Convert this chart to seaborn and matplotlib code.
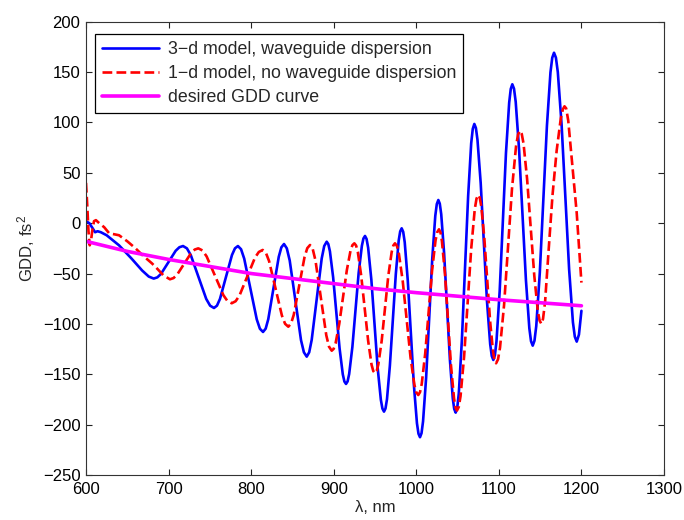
import matplotlib
matplotlib.use("Agg")
import matplotlib.pyplot as plt
import seaborn as sns

# ---- data: (wavelength nm, GDD fs^2) ----
blue_points = [
    (600, 2), (604, 0), (608, -5), (611, -9), (614, -8), (618, -9), (625, -12),
    (640, -22), (655, -35), (668, -47), (676, -53), (682, -55), (686.4, -53.8),
    (690.9, -50.3), (699.75, -38.85), (708.6, -27.4), (713.1, -23.9), (717.5, -22.7),
    (722.2, -25.0), (726.9, -31.7), (736.25, -53.45), (745.6, -75.2), (750.3, -81.9),
    (755, -84.2), (758.6, -81.9), (762.25, -75.2), (769.5, -53.45), (776.75, -31.7),
    (780.4, -25.0), (784, -22.7), (787.8, -25.9), (791.6, -35.2), (799.2, -65.35),
    (806.8, -95.5), (810.6, -104.8), (814.4, -108), (817.6, -104.7), (820.75, -95.3),
    (827.1, -64.35), (833.45, -33.4), (836.6, -24.0), (839.8, -20.7), (843.2, -25.0),
    (846.7, -37), (853.55, -76.6), (860.4, -116.2), (863.9, -128.2), (867.3, -132.5),
    (870.3, -128.2), (873.35, -115.8), (879.4, -75.45), (885.45, -35.1), (888.5, -22.7),
    (891.5, -18.4), (893.45, -20.8), (895.4, -27.9), (899.3, -53.7), (903.2, -89),
    (907.1, -124.3), (911.0, -150.1), (912.95, -157.2), (914.9, -159.6), (916.8, -157.1),
    (918.7, -149.8), (922.6, -122.9), (926.4, -86.15), (930.2, -49.4), (934.1, -22.5),
    (936.0, -15.2), (937.9, -12.7), (939.8, -15.7), (941.7, -24.4), (945.6, -56.3),
    (949.4, -99.9), (953.2, -143.5), (957.1, -175.4), (959.0, -184.1), (960.9, -187.1),
    (962.7, -184), (964.5, -174.9), (968.0, -141.6), (971.6, -96.1), (975.2, -50.6),
    (978.7, -17.3), (980.5, -8.2), (982.3, -5.1), (984.15, -8.6), (986.0, -19),
    (989.7, -57), (993.4, -108.8), (997.1, -160.7), (1000.8, -198.6), (1002.65, -209),
    (1004.5, -212.5), (1006.35, -208.5), (1008.2, -196.7), (1011.9, -153.6),
    (1015.6, -94.75), (1019.3, -35.9), (1023.0, 7.2), (1024.85, 19), (1026.7, 23),
    (1028.45, 19.4), (1030.2, 8.9), (1033.7, -29.8), (1037.2, -82.55), (1040.7, -135.3),
    (1044.2, -174), (1045.95, -184.5), (1047.7, -188.1), (1049.6, -183.2),
    (1051.5, -168.9), (1055.2, -116.45), (1059.0, -44.8), (1062.8, 26.9), (1066.5, 79.3),
    (1068.4, 93.6), (1070.3, 98.5), (1072.2, 94.5), (1074.1, 82.8), (1078.0, 39.9),
    (1081.8, -18.65), (1085.6, -77.2), (1089.5, -120.1), (1091.4, -131.8),
    (1093.3, -135.8), (1095.2, -131.1), (1097.1, -117.5), (1101.0, -67.4), (1104.8, 1.05),
    (1108.6, 69.5), (1112.5, 119.6), (1114.4, 133.2), (1116.3, 137.9), (1118.35, 133.5),
    (1120.4, 120.5), (1124.5, 73), (1128.65, 8.15), (1132.8, -56.7), (1136.9, -104.2),
    (1138.95, -117.2), (1141.0, -121.6), (1143.15, -116.6), (1145.3, -102.1),
    (1149.6, -48.9), (1153.9, 23.8), (1158.2, 96.5), (1162.5, 149.7), (1164.65, 164.2),
    (1166.8, 169.2), (1169.1, 164.3), (1171.4, 150), (1176.0, 97.5), (1180.55, 25.8),
    (1185.1, -45.9), (1189.7, -98.4), (1192.0, -112.7), (1194.3, -117.6), (1197, -110.6),
    (1200, -87),
]

red_points = [
    (600, 40), (601.5, 18), (603, -8), (604.5, -22), (606, -18), (607.5, -8), (609.7, 2),
    (612, 3), (616, 0), (622, -4), (628, -10), (634, -11), (640, -12), (650, -18),
    (660, -25), (668, -31.5), (680, -40), (686, -45), (694, -52), (701.7, -55.7),
    (706.0, -54.5), (710.3, -51.2), (718.85, -40.35), (727.4, -29.5), (731.7, -26.2),
    (736, -25), (741.1, -27.1), (746.1, -33), (756.25, -52.25), (766.4, -71.5),
    (771.4, -77.4), (776.5, -79.5), (781.2, -77.5), (785.9, -71.8), (795.25, -53.05),
    (804.6, -34.3), (809.3, -28.6), (814, -26.6), (817.9, -29.5), (821.75, -37.7),
    (829.5, -64.7), (837.25, -91.7), (841.1, -99.9), (845, -102.8), (848.3, -99.7),
    (851.6, -91), (858.15, -62.25), (864.7, -33.5), (868.0, -24.8), (871.3, -21.7),
    (874.6, -25.7), (877.9, -37), (884.45, -74.15), (891, -111.3), (894.3, -122.6),
    (897.6, -126.6), (899.9, -124.8), (902.2, -119.5), (906.7, -99.95), (911.3, -73.3),
    (915.9, -46.65), (920.4, -27.1), (922.7, -21.8), (925, -20), (927.1, -22.2),
    (929.2, -28.6), (933.3, -52.25), (937.5, -84.5), (941.7, -116.75), (945.8, -140.4),
    (947.9, -146.8), (950, -149), (952.0, -146.8), (954.0, -140.4), (958.1, -116.75),
    (962.1, -84.5), (966.1, -52.25), (970.2, -28.6), (972.2, -22.2), (974.2, -20),
    (976.55, -22.6), (978.9, -30.1), (983.6, -57.65), (988.3, -95.3), (993.0, -132.95),
    (997.7, -160.5), (1000.05, -168), (1002.4, -170.6), (1004.5, -167.8), (1006.6, -159.6),
    (1010.8, -129.5), (1015.0, -88.35), (1019.1, -47.2), (1023.3, -17.1), (1025.4, -8.9),
    (1027.5, -6.1), (1029.3, -9.2), (1031.1, -18.15), (1034.8, -51.1), (1038.4, -96.05),
    (1042.0, -141), (1045.7, -173.9), (1047.5, -183), (1049.3, -186), (1051.45, -182.4),
    (1053.6, -171.7), (1057.9, -132.5), (1062.2, -79), (1066.5, -25.5), (1070.8, 13.7),
    (1072.95, 24.4), (1075.1, 28), (1076.9, 25.2), (1078.7, 16.8), (1082.3, -13.8),
    (1085.85, -55.55), (1089.4, -97.3), (1093.0, -127.9), (1094.8, -136.3),
    (1096.6, -139.1), (1099.0, -135.2), (1101.4, -123.6), (1106.3, -81.4),
    (1111.1, -23.65), (1115.9, 34.1), (1120.8, 76.3), (1123.2, 87.9), (1125.6, 91.8),
    (1127.75, 88.5), (1129.9, 78.95), (1134.2, 43.85), (1138.55, -4.1), (1142.9, -52.05),
    (1147.2, -87.15), (1149.35, -96.7), (1151.5, -100), (1153.5, -95), (1156, -78),
    (1160, -30), (1165, 28), (1170, 72), (1175, 104), (1177.5, 113), (1179.5, 116),
    (1181.5, 114), (1184, 102), (1188, 66), (1191, 40), (1194.3, 10), (1197, -22),
    (1200, -59),
]

mag_x = [600, 650, 700, 750, 800, 850, 900, 950, 1000, 1050, 1100, 1150, 1200]
mag_y = [-18, -28, -36, -43, -50, -55, -60, -65, -69, -72.5, -76, -79, -82]

blue_x = [p[0] for p in blue_points]
blue_y = [p[1] for p in blue_points]
red_x = [p[0] for p in red_points]
red_y = [p[1] for p in red_points]

labels = ["3\u2212d model, waveguide dispersion",
          "1\u2212d model, no waveguide dispersion",
          "desired GDD curve"]
x_ticks = [600, 700, 800, 900, 1000, 1100, 1200, 1300]
y_ticks = [-250, -200, -150, -100, -50, 0, 50, 100, 150, 200]

# ---- style ----
sns.set_theme(style="white")
plt.rcParams["font.family"] = ["Liberation Sans", "DejaVu Sans"]
plt.rcParams["mathtext.default"] = "regular"
plt.rcParams["axes.unicode_minus"] = True

fig = plt.figure(figsize=(6.84, 5.2), dpi=100)
ax = fig.add_axes([86 / 684, 1 - 475 / 520, 578 / 684, 453.3 / 520])

sns.lineplot(x=blue_x, y=blue_y, ax=ax, color="#0000ff", linewidth=1.9,
             sort=False, estimator=None, label=labels[0])
sns.lineplot(x=red_x, y=red_y, ax=ax, color="#ff0000", linewidth=1.9,
             linestyle="--", sort=False, estimator=None, label=labels[1])
sns.lineplot(x=mag_x, y=mag_y, ax=ax, color="#ff00ff", linewidth=2.6,
             sort=False, estimator=None, label=labels[2])

ax.set_xlim(600, 1300)
ax.set_ylim(-250, 200)
ax.set_xticks(x_ticks)
ax.set_yticks(y_ticks)
ax.tick_params(direction="in", length=4.5, width=0.8, colors="#222222",
               labelcolor="black", labelsize=12, top=True, right=True,
               bottom=True, left=True)
ax.tick_params(axis="x", pad=5)
ax.tick_params(axis="y", pad=4)
for s in ax.spines.values():
    s.set_color("#333333")
    s.set_linewidth(0.8)

ax.set_xlabel("\u03bb, nm", fontsize=12, labelpad=2)
ax.set_ylabel("GDD, fs$^2$", fontsize=12, labelpad=4)

leg = ax.legend(loc="upper left", bbox_to_anchor=(9 / 578, 1 - 12.3 / 453.3),
                borderaxespad=0, fontsize=12.8, frameon=True, fancybox=False,
                framealpha=1, edgecolor="black", handlelength=3.2,
                handletextpad=0.5, labelspacing=0.4, borderpad=0.4)
leg.get_frame().set_linewidth(0.9)

fig.savefig("out.png", dpi=100)
